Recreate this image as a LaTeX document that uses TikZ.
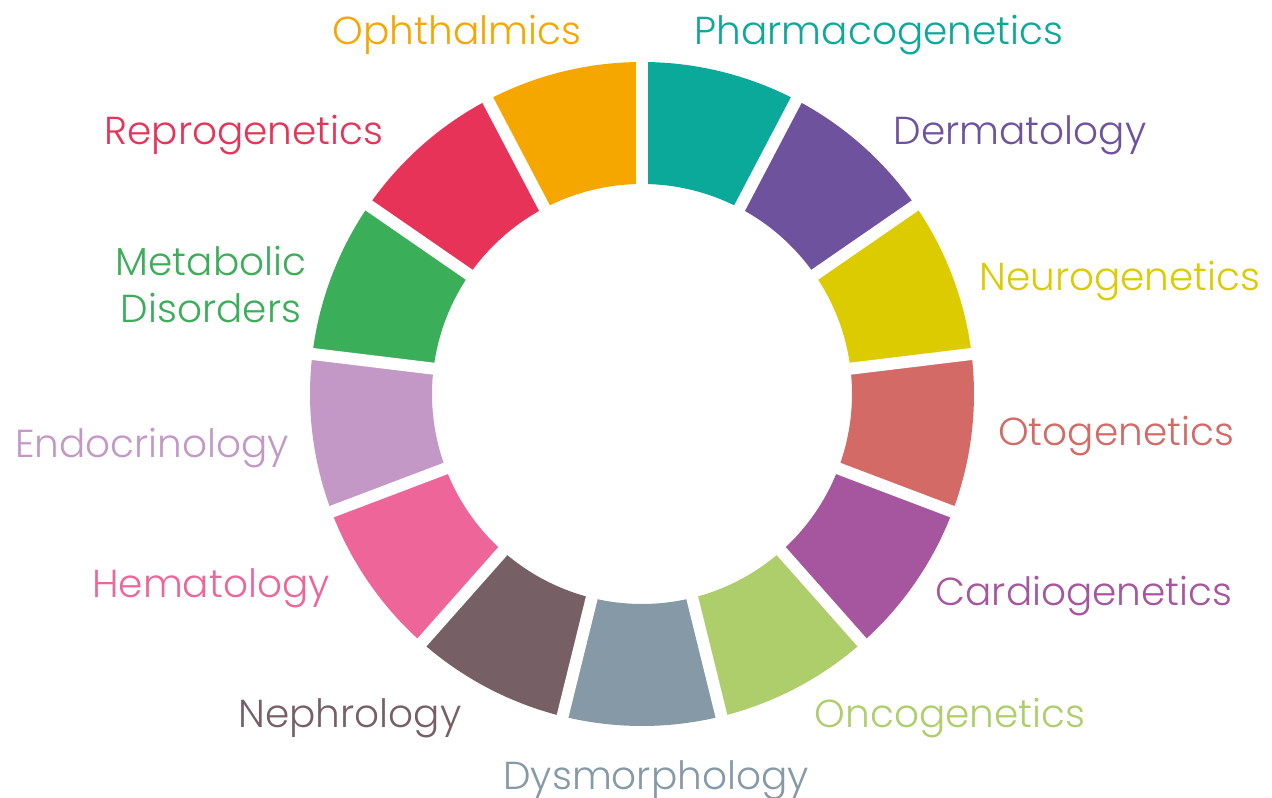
\documentclass[tikz,border=0pt]{standalone}
\usepackage{fontspec}
\setmainfont{Poppins Light}
\begin{document}
\begin{tikzpicture}[x=1pt,y=1pt,
  lab/.style={inner sep=0pt,font=\fontsize{39}{47}\selectfont}]
\useasboundingbox (0,0) rectangle (1272,798);
\definecolor{cPharm}{HTML}{0AA99A}
\definecolor{cDerm}{HTML}{6E529E}
\definecolor{cNeuro}{HTML}{DCCB00}
\definecolor{cOto}{HTML}{D36A66}
\definecolor{cCardio}{HTML}{A6569E}
\definecolor{cOnco}{HTML}{AECE6C}
\definecolor{cDysm}{HTML}{8599A6}
\definecolor{cNeph}{HTML}{766066}
\definecolor{cHema}{HTML}{EE6699}
\definecolor{cEndo}{HTML}{C498C6}
\definecolor{cMetab}{HTML}{3BAE5A}
\definecolor{cRepro}{HTML}{E83358}
\definecolor{cOphth}{HTML}{F5A700}
\coordinate (c) at (642,404);
\def\Ro{332}\def\Ri{210}
\foreach \col [count=\i from 0] in {cPharm,cDerm,cNeuro,cOto,cCardio,cOnco,cDysm,cNeph,cHema,cEndo,cMetab,cRepro,cOphth}{
  \pgfmathsetmacro\a{90-\i*360/13}
  \pgfmathsetmacro\b{90-(\i+1)*360/13}
  \fill[\col] ([shift={(\a:\Ro)}]c) arc[start angle=\a,end angle=\b,radius=\Ro]
     -- ([shift={(\b:\Ri)}]c) arc[start angle=\b,end angle=\a,radius=\Ri] -- cycle;
}
\foreach \i in {0,...,12}{
  \pgfmathsetmacro\a{90-\i*360/13}
  \draw[white,line width=12pt] (c) -- ([shift={(\a:\Ro+10)}]c);
}
\node[lab,text=cOphth] (ophth) at (457,763) {Ophthalmics};
\node[lab,text=cPharm] (pharm) at (879,763) {Pharmacogenetics};
\node[lab,text=cRepro] (repro) at (244,663) {Reprogenetics};
\node[lab,text=cDerm] (derm) at (1020,663) {Dermatology};
\node[lab,text=cMetab,align=center] (metab) at (211,514) {Metabolic\\Disorders};
\node[lab,text=cNeuro] (neuro) at (1120,517) {Neurogenetics};
\node[lab,text=cEndo] (endo) at (152,350) {Endocrinology};
\node[lab,text=cOto] (oto) at (1116,362) {Otogenetics};
\node[lab,text=cHema] (hema) at (211,210) {Hematology};
\node[lab,text=cCardio] (cardio) at (1084,202) {Cardiogenetics};
\node[lab,text=cNeph] (neph) at (350,80) {Nephrology};
\node[lab,text=cOnco] (onco) at (950,80) {Oncogenetics};
\node[lab,text=cDysm] (dysm) at (656,18) {Dysmorphology};
\end{tikzpicture}
\end{document}
